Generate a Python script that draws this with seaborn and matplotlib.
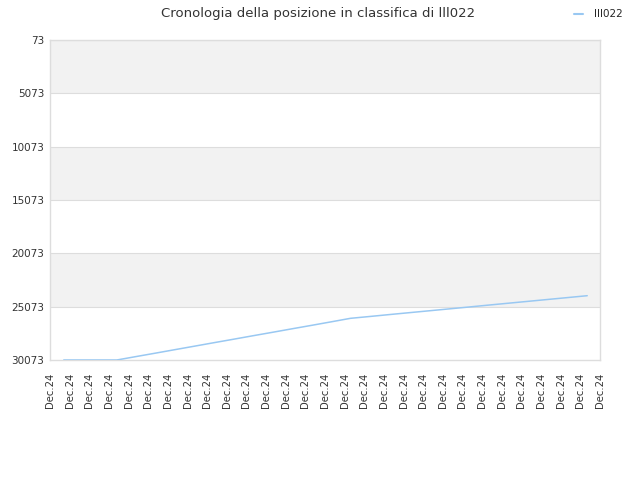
import matplotlib
matplotlib.use("Agg")
import matplotlib.pyplot as plt
import seaborn as sns
import pandas as pd

# ---- data ----
player = "lll022"
tick_labels = ["Dec.24"] * 29
ytick_values = [73, 5073, 10073, 15073, 20073, 25073, 30073]

# positions in tick units (one tick per day) and the rank at each point
day_pos = [0.7, 1.6, 2.5, 3.4, 4.4, 5.4, 6.4, 7.3, 8.3, 9.3, 10.3, 11.3, 12.3, 13.3,
           14.3, 15.3, 16.3, 17.3, 18.3, 19.3, 20.3, 21.3, 22.3, 23.3, 24.3, 25.3,
           26.3, 27.35]
rank = [30073, 30073, 30073, 30073, 29745, 29420, 29090, 28795, 28465, 28140,
        27810, 27485, 27155, 26830, 26500, 26165, 25990, 25810, 25635, 25460,
        25285, 25110, 24930, 24755, 24580, 24405, 24230, 24045]

df = pd.DataFrame({"day": day_pos, "rank": rank, "player": player})

sns.set_style("white")
plt.rcParams["font.family"] = ["DejaVu Sans"]

fig = plt.figure(figsize=(6.4, 4.8), dpi=100)
ax = fig.add_axes([50 / 640, 120 / 480, 550 / 640, 320 / 480])

# alternating background bands
for i in range(len(ytick_values) - 1):
    if i % 2 == 0:
        ax.axhspan(ytick_values[i], ytick_values[i + 1], color="#f2f2f2", zorder=0, lw=0)
    ax.axhline(ytick_values[i], color="#dddddd", lw=0.8, zorder=0.5)

sns.lineplot(data=df, x="day", y="rank", hue="player", palette=["#99c8f2"],
             lw=1.1, ax=ax, legend=False, zorder=3)

ax.set_xlim(0, 28)
ax.set_ylim(30073, 73)
ax.set_yticks(ytick_values)
ax.set_yticklabels([str(v) for v in ytick_values])
ax.set_xticks(range(len(tick_labels)))
ax.set_xticklabels(tick_labels, rotation=90)
ax.tick_params(axis="both", length=0, labelsize=7.5, colors="#333333")
ax.tick_params(axis="y", pad=4)
ax.tick_params(axis="x", pad=9, labelsize=7.3)
ax.set_xlabel("")
ax.set_ylabel("")
for s in ax.spines.values():
    s.set_color("#dddddd")
    s.set_linewidth(1)

fig.suptitle("Cronologia della posizione in classifica di " + player,
             x=0.497, y=0.985, fontsize=9.5, color="#333333")

handle = plt.Line2D([], [], color="#99c8f2", lw=1.5)
fig.legend([handle], [player], loc="upper right", bbox_to_anchor=(0.9875, 1.0),
           frameon=False, fontsize=7.5, handlelength=0.9, handletextpad=1.0)

fig.savefig("out.png", dpi=100)
